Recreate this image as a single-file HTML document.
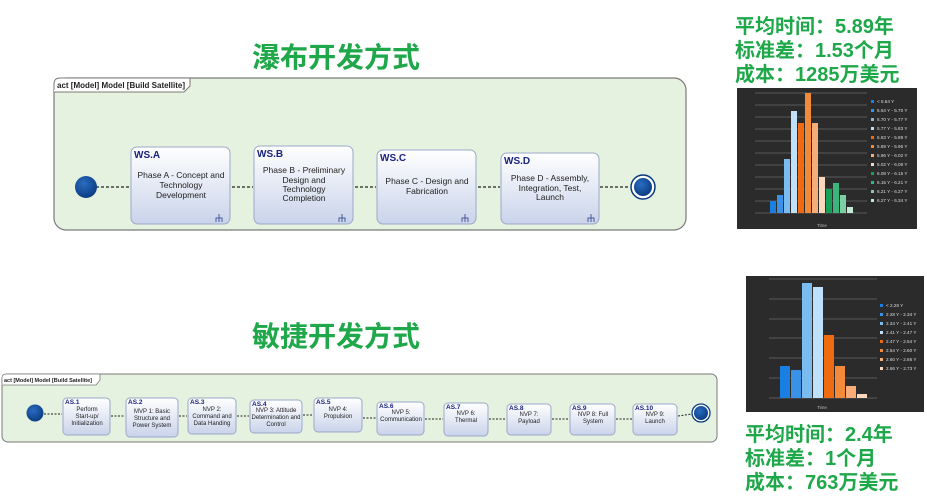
<!DOCTYPE html>
<html><head><meta charset="utf-8"><style>
body{margin:0;width:927px;height:503px;background:#fff;overflow:hidden;font-family:"Liberation Sans","Noto Sans CJK SC",sans-serif}
.t{position:absolute;color:#1ea84a;font-weight:bold;font-family:"Liberation Sans","Noto Sans CJK SC",sans-serif;white-space:nowrap}
</style></head><body>
<div class="t" style="left:252px;top:36px;font-size:28px;letter-spacing:0px">瀑布开发方式</div>
<div class="t" style="left:252px;top:315px;font-size:28px">敏捷开发方式</div>
<div class="t" style="left:735px;top:15px;font-size:20px;line-height:24px">平均时间：5.89年<br>标准差：1.53个月<br>成本：1285万美元</div>
<div class="t" style="left:745px;top:423px;font-size:20px;line-height:24px">平均时间：2.4年<br>标准差：1个月<br>成本：763万美元</div>
<svg width="927" height="503" style="position:absolute;left:0;top:0" font-family="Liberation Sans, sans-serif">
<defs>
<linearGradient id="bx" x1="0" y1="0" x2="0" y2="1"><stop offset="0" stop-color="#ffffff"/><stop offset="1" stop-color="#c9d3ea"/></linearGradient>
<radialGradient id="ci" cx="0.4" cy="0.35" r="0.7"><stop offset="0" stop-color="#2a6cc0"/><stop offset="1" stop-color="#0a3a80"/></radialGradient>
</defs>
<rect x="54" y="78" width="632" height="152" rx="12" fill="#e5f2df" stroke="#7a7a7a" stroke-width="1.2"/>
<path d="M54 90 V84 Q54 78 60 78 H190 V86 L184 92 H54" fill="#fff" stroke="#7a7a7a"/>
<text x="57" y="88" font-size="8" font-weight="bold" fill="#222">act [Model] Model [Build Satellite]</text>
<g stroke="#222" stroke-width="1.3" stroke-dasharray="3,2" fill="none">
<line x1="96" y1="187" x2="130" y2="187"/><line x1="232" y1="187" x2="253" y2="187"/>
<line x1="355" y1="187" x2="376" y2="187"/><line x1="478" y1="187" x2="500" y2="187"/>
<line x1="600" y1="187" x2="630" y2="187"/>
</g>
<circle cx="86" cy="187" r="11" fill="url(#ci)"/>
<circle cx="643" cy="187" r="12" fill="#fff" stroke="#0a3a80" stroke-width="1.5"/><circle cx="643" cy="187" r="9" fill="url(#ci)"/>
<g font-size="8.5" fill="#222" text-anchor="middle">
<rect x="131" y="147" width="99" height="77" rx="6" fill="url(#bx)" stroke="#9aa8c8"/>
<text x="134" y="158" text-anchor="start" font-weight="bold" font-size="10" fill="#1a237e">WS.A</text>
<text x="181" y="178">Phase A - Concept and</text><text x="181" y="188">Technology</text><text x="181" y="198">Development</text>
<rect x="254" y="146" width="99" height="78" rx="6" fill="url(#bx)" stroke="#9aa8c8"/>
<text x="257" y="157" text-anchor="start" font-weight="bold" font-size="10" fill="#1a237e">WS.B</text>
<text x="304" y="173">Phase B - Preliminary</text><text x="304" y="183">Design and</text><text x="304" y="192">Technology</text><text x="304" y="201">Completion</text>
<rect x="377" y="150" width="99" height="74" rx="6" fill="url(#bx)" stroke="#9aa8c8"/>
<text x="380" y="161" text-anchor="start" font-weight="bold" font-size="10" fill="#1a237e">WS.C</text>
<text x="427" y="184">Phase C - Design and</text><text x="427" y="194">Fabrication</text>
<rect x="501" y="153" width="98" height="71" rx="6" fill="url(#bx)" stroke="#9aa8c8"/>
<text x="504" y="164" text-anchor="start" font-weight="bold" font-size="10" fill="#1a237e">WS.D</text>
<text x="550" y="181">Phase D - Assembly,</text><text x="550" y="191">Integration, Test,</text><text x="550" y="200">Launch</text>
</g>
<g stroke="#4a5a9a" fill="none" stroke-width="1">
<path d="M219 222 v-8 M216 222 v-4 h6 v4"/><path d="M342 222 v-8 M339 222 v-4 h6 v4"/>
<path d="M465 222 v-8 M462 222 v-4 h6 v4"/><path d="M591 222 v-8 M588 222 v-4 h6 v4"/>
</g>
<rect x="2" y="374" width="715" height="68" rx="6" fill="#e5f2df" stroke="#7a7a7a"/>
<path d="M2 384 V378 Q2 374 6 374 H100 V380 L96 385 H2" fill="#fff" stroke="#7a7a7a" stroke-width="0.8"/>
<text x="4" y="382" font-size="5.5" font-weight="bold" fill="#222">act [Model] Model [Build Satellite]</text>
<g stroke="#222" stroke-width="1" stroke-dasharray="2,1.5" fill="none">
<line x1="44" y1="414" x2="62" y2="414"/><line x1="111" y1="416" x2="125" y2="416"/>
<line x1="179" y1="416" x2="187" y2="416"/><line x1="237" y1="416" x2="249" y2="416"/>
<line x1="303" y1="415" x2="313" y2="415"/><line x1="363" y1="418" x2="376" y2="418"/>
<line x1="425" y1="419" x2="443" y2="419"/><line x1="489" y1="419" x2="506" y2="419"/>
<line x1="552" y1="419" x2="569" y2="419"/><line x1="616" y1="419" x2="632" y2="419"/>
<line x1="678" y1="416" x2="692" y2="414"/>
</g>
<circle cx="35" cy="413" r="8.5" fill="url(#ci)"/>
<circle cx="701" cy="413" r="9" fill="#fff" stroke="#0a3a80" stroke-width="1.3"/><circle cx="701" cy="413" r="7" fill="url(#ci)"/>
<g font-size="6" fill="#222" text-anchor="middle">
<g><rect x="63" y="398" width="47" height="37" rx="4" fill="url(#bx)" stroke="#9aa8c8"/><text x="65" y="404" text-anchor="start" font-weight="bold" font-size="6.5" fill="#1a237e">AS.1</text><text x="87" y="411">Perform</text><text x="87" y="418">Start-up/</text><text x="87" y="425">Initialization</text></g>
<g><rect x="126" y="398" width="52" height="39" rx="4" fill="url(#bx)" stroke="#9aa8c8"/><text x="128" y="404" text-anchor="start" font-weight="bold" font-size="6.5" fill="#1a237e">AS.2</text><text x="152" y="413">MVP 1: Basic</text><text x="152" y="420">Structure and</text><text x="152" y="427">Power System</text></g>
<g><rect x="188" y="398" width="48" height="36" rx="4" fill="url(#bx)" stroke="#9aa8c8"/><text x="190" y="404" text-anchor="start" font-weight="bold" font-size="6.5" fill="#1a237e">AS.3</text><text x="212" y="411">NVP 2:</text><text x="212" y="418">Command and</text><text x="212" y="425">Data Handing</text></g>
<g><rect x="250" y="400" width="52" height="33" rx="4" fill="url(#bx)" stroke="#9aa8c8"/><text x="252" y="406" text-anchor="start" font-weight="bold" font-size="6.5" fill="#1a237e">AS.4</text><text x="276" y="412">NVP 3: Attitude</text><text x="276" y="419">Determination and</text><text x="276" y="426">Control</text></g>
<g><rect x="314" y="398" width="48" height="34" rx="4" fill="url(#bx)" stroke="#9aa8c8"/><text x="316" y="404" text-anchor="start" font-weight="bold" font-size="6.5" fill="#1a237e">AS.5</text><text x="338" y="411">NVP 4:</text><text x="338" y="418">Propulsion</text></g>
<g><rect x="377" y="402" width="47" height="33" rx="4" fill="url(#bx)" stroke="#9aa8c8"/><text x="379" y="408" text-anchor="start" font-weight="bold" font-size="6.5" fill="#1a237e">AS.6</text><text x="401" y="414">NVP 5:</text><text x="401" y="421">Communication</text></g>
<g><rect x="444" y="403" width="44" height="33" rx="4" fill="url(#bx)" stroke="#9aa8c8"/><text x="446" y="409" text-anchor="start" font-weight="bold" font-size="6.5" fill="#1a237e">AS.7</text><text x="466" y="415">NVP 6:</text><text x="466" y="422">Thermal</text></g>
<g><rect x="507" y="404" width="44" height="31" rx="4" fill="url(#bx)" stroke="#9aa8c8"/><text x="509" y="410" text-anchor="start" font-weight="bold" font-size="6.5" fill="#1a237e">AS.8</text><text x="529" y="416">NVP 7:</text><text x="529" y="423">Payload</text></g>
<g><rect x="570" y="404" width="45" height="31" rx="4" fill="url(#bx)" stroke="#9aa8c8"/><text x="572" y="410" text-anchor="start" font-weight="bold" font-size="6.5" fill="#1a237e">AS.9</text><text x="593" y="416">NVP 8: Full</text><text x="593" y="423">System</text></g>
<g><rect x="633" y="404" width="44" height="31" rx="4" fill="url(#bx)" stroke="#9aa8c8"/><text x="635" y="410" text-anchor="start" font-weight="bold" font-size="6.5" fill="#1a237e">AS.10</text><text x="655" y="416">NVP 9:</text><text x="655" y="423">Launch</text></g>
</g>
<rect x="737" y="88" width="180" height="141" fill="#2b2b2b"/>
<g stroke="#888" stroke-width="0.5">
<line x1="755" y1="93" x2="867" y2="93"/><line x1="755" y1="105" x2="867" y2="105"/><line x1="755" y1="117" x2="867" y2="117"/><line x1="755" y1="129" x2="867" y2="129"/><line x1="755" y1="141" x2="867" y2="141"/><line x1="755" y1="153" x2="867" y2="153"/><line x1="755" y1="165" x2="867" y2="165"/><line x1="755" y1="177" x2="867" y2="177"/><line x1="755" y1="189" x2="867" y2="189"/><line x1="755" y1="201" x2="867" y2="201"/><line x1="755" y1="213" x2="867" y2="213"/>
</g>
<g>
<rect x="770" y="201" width="6" height="12" fill="#1a7fe0"/><rect x="777" y="195" width="6" height="18" fill="#3a92e6"/><rect x="784" y="159" width="6" height="54" fill="#7bbcf0"/><rect x="791" y="111" width="6" height="102" fill="#bfe0fa"/>
<rect x="798" y="123" width="6" height="90" fill="#f06a10"/><rect x="805" y="93" width="6" height="120" fill="#f38a3a"/><rect x="812" y="123" width="6" height="90" fill="#f6ad78"/><rect x="819" y="177" width="6" height="36" fill="#fbd8bd"/>
<rect x="826" y="189" width="6" height="24" fill="#16a05a"/><rect x="833" y="183" width="6" height="30" fill="#3bb57a"/><rect x="840" y="195" width="6" height="18" fill="#7ccfa3"/><rect x="847" y="207" width="6" height="6" fill="#c2ead3"/>
</g>
<text x="822" y="227" font-size="4.5" fill="#bbb" text-anchor="middle">Time</text>
<g font-size="4.6" fill="#ddd">
<rect x="871" y="100" width="3" height="3" fill="#1a7fe0"/><text x="877" y="103">&lt; 5.64 Y</text>
<rect x="871" y="109" width="3" height="3" fill="#3a92e6"/><text x="877" y="112">5.64 Y - 5.70 Y</text>
<rect x="871" y="118" width="3" height="3" fill="#7bbcf0"/><text x="877" y="121">5.70 Y - 5.77 Y</text>
<rect x="871" y="127" width="3" height="3" fill="#bfe0fa"/><text x="877" y="130">5.77 Y - 5.83 Y</text>
<rect x="871" y="136" width="3" height="3" fill="#f06a10"/><text x="877" y="139">5.83 Y - 5.89 Y</text>
<rect x="871" y="145" width="3" height="3" fill="#f38a3a"/><text x="877" y="148">5.89 Y - 5.96 Y</text>
<rect x="871" y="154" width="3" height="3" fill="#f6ad78"/><text x="877" y="157">5.96 Y - 6.02 Y</text>
<rect x="871" y="163" width="3" height="3" fill="#fbd8bd"/><text x="877" y="166">6.02 Y - 6.08 Y</text>
<rect x="871" y="172" width="3" height="3" fill="#16a05a"/><text x="877" y="175">6.08 Y - 6.15 Y</text>
<rect x="871" y="181" width="3" height="3" fill="#3bb57a"/><text x="877" y="184">6.15 Y - 6.21 Y</text>
<rect x="871" y="190" width="3" height="3" fill="#7ccfa3"/><text x="877" y="193">6.21 Y - 6.27 Y</text>
<rect x="871" y="199" width="3" height="3" fill="#c2ead3"/><text x="877" y="202">6.27 Y - 6.34 Y</text>
</g>
<rect x="746" y="276" width="178" height="136" fill="#2b2b2b"/>
<g stroke="#888" stroke-width="0.5">
<line x1="769" y1="279" x2="877" y2="279"/><line x1="769" y1="299" x2="877" y2="299"/><line x1="769" y1="319" x2="877" y2="319"/><line x1="769" y1="338" x2="877" y2="338"/><line x1="769" y1="358" x2="877" y2="358"/><line x1="769" y1="378" x2="877" y2="378"/><line x1="769" y1="398" x2="877" y2="398"/>
</g>
<g>
<rect x="780" y="366" width="10" height="32" fill="#1a7fe0"/><rect x="791" y="370" width="10" height="28" fill="#3a92e6"/><rect x="802" y="283" width="10" height="115" fill="#7bbcf0"/><rect x="813" y="287" width="10" height="111" fill="#bfe0fa"/>
<rect x="824" y="335" width="10" height="63" fill="#f06a10"/><rect x="835" y="366" width="10" height="32" fill="#f38a3a"/><rect x="846" y="386" width="10" height="12" fill="#f6ad78"/><rect x="857" y="394" width="10" height="4" fill="#fbd8bd"/>
</g>
<text x="822" y="409" font-size="4.5" fill="#bbb" text-anchor="middle">Time</text>
<g font-size="4.6" fill="#ddd">
<rect x="880" y="304" width="3" height="3" fill="#1a7fe0"/><text x="886" y="307">&lt; 2.28 Y</text>
<rect x="880" y="313" width="3" height="3" fill="#3a92e6"/><text x="886" y="316">2.28 Y - 2.34 Y</text>
<rect x="880" y="322" width="3" height="3" fill="#7bbcf0"/><text x="886" y="325">2.34 Y - 2.41 Y</text>
<rect x="880" y="331" width="3" height="3" fill="#bfe0fa"/><text x="886" y="334">2.41 Y - 2.47 Y</text>
<rect x="880" y="340" width="3" height="3" fill="#f06a10"/><text x="886" y="343">2.47 Y - 2.54 Y</text>
<rect x="880" y="349" width="3" height="3" fill="#f38a3a"/><text x="886" y="352">2.54 Y - 2.60 Y</text>
<rect x="880" y="358" width="3" height="3" fill="#f6ad78"/><text x="886" y="361">2.60 Y - 2.66 Y</text>
<rect x="880" y="367" width="3" height="3" fill="#fbd8bd"/><text x="886" y="370">2.66 Y - 2.73 Y</text>
</g>
</svg>
</body></html>
